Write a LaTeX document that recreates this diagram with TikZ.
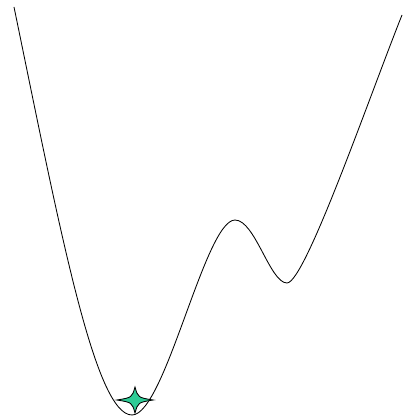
\documentclass[tikz,border=0pt]{standalone}
\usepackage{tikz}
\usetikzlibrary{calc}
\definecolor{startcol}{RGB}{46,204,150}
\tikzstyle{curve}=[line width=0.6pt, black]
\tikzstyle{starshape}=[line width=0.6pt, draw=black, fill=startcol]

\begin{document}
\begin{tikzpicture}[x=0.025cm, y=-0.025cm]
\useasboundingbox (0,0) rectangle (402,419);
\coordinate (top) at (14,7);
\coordinate (well) at (132,415);
\coordinate (hill) at (235,220);
\coordinate (dip) at (287,283);
\coordinate (end) at (402,15);
\draw[curve] (top) .. controls (60,230) and (95,415) .. (well)
  .. controls (165,415) and (205,220) .. (hill)
  .. controls (255,220) and (270,283) .. (dip)
  .. controls (305,283) and (370,95) .. (end);
\coordinate (c) at (135,400);
\draw[starshape] ($(c)+(-18,0)$) .. controls ($(c)+(-3,-2.5)$) .. ($(c)+(0,-13)$)
  .. controls ($(c)+(3,-2.5)$) .. ($(c)+(18,0)$)
  .. controls ($(c)+(3,2.5)$) .. ($(c)+(0,13)$)
  .. controls ($(c)+(-3,2.5)$) .. cycle;
\end{tikzpicture}
\end{document}
